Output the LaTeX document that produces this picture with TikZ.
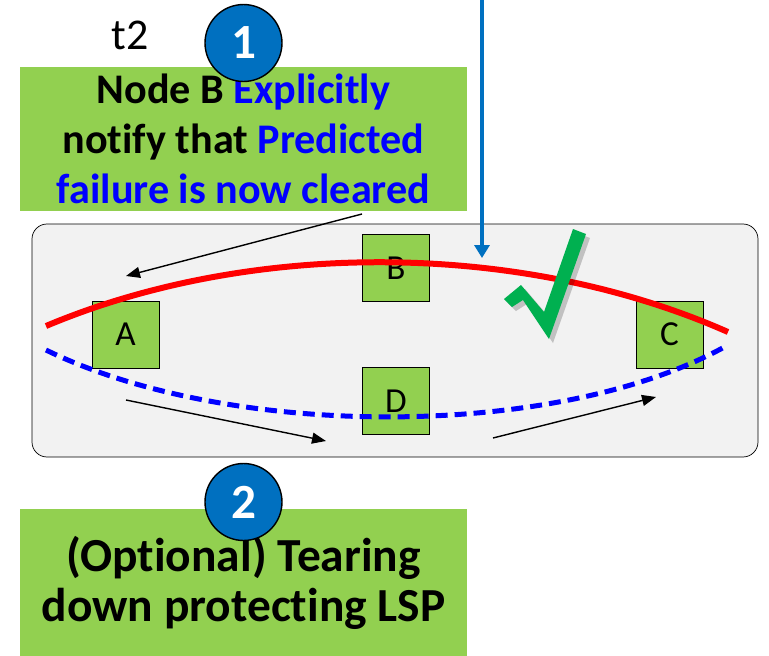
\documentclass[tikz,border=0pt]{standalone}
\usepackage{fontspec}
\setmainfont[RawFeature={-liga;-clig;-calt;-dlig}]{Carlito}
\usetikzlibrary{arrows.meta,positioning}

\definecolor{boxgreen}{HTML}{92D050}
\definecolor{numblue}{HTML}{0070C0}
\definecolor{txtblue}{HTML}{0000FF}
\definecolor{checkgreen}{HTML}{00B050}
\definecolor{areagray}{HTML}{F2F2F2}

\tikzset{
  router/.style={draw=black,fill=boxgreen,minimum width=1.34cm,minimum height=1.34cm,inner sep=0pt,font=\fontsize{20}{24}\selectfont},
  notebox/.style={fill=boxgreen,minimum width=8.94cm,inner sep=0pt,align=center,font=\fontsize{24}{28.5}\selectfont\bfseries},
  stepnum/.style={circle,draw=black,thick,fill=numblue,text=white,minimum size=1.54cm,inner sep=0pt,font=\fontsize{28}{32}\selectfont\bfseries},
  flow/.style={line width=0.8pt,-{Triangle[length=0.28cm,width=0.22cm]}}
}

\begin{document}
\begin{tikzpicture}[x=0.02cm,y=-0.02cm]
    \useasboundingbox (0,0) rectangle (769,656);

    % network area
    \draw[fill=areagray,rounded corners=0.3cm] (32,224) rectangle (758,457);

    % routers
    \node[router] (A) at (125.5,334.5) {A};
    \node[router] (B) at (396,268) {B};
    \node[router] (C) at (669.5,334.5) {C};
    \node[router] (D) at (396,401) {D};

    % working path (red) and protecting path (blue, dashed)
    \draw[red,line width=0.12cm] (46,326) .. controls (250,240) and (520,240) .. (728,332);
    \draw[txtblue,line width=0.1cm,dash pattern=on 0.24cm off 0.14cm]
        (46,350) .. controls (230,440) and (560,440) .. (728,345);

    % check mark with its shadow
    \fill[black,opacity=0.2,shift={(4,4)}] (504,299) -- (521,285) -- (544,312) -- (573,229)
        -- (586,234) -- (549,339) -- (523,300) -- (512,307) -- cycle;
    \fill[checkgreen] (504,299) -- (521,285) -- (544,312) -- (573,229)
        -- (586,234) -- (549,339) -- (523,300) -- (512,307) -- cycle;

    % notification flow
    \coordinate (fromB) at (362,214);
    \coordinate (toA) at (126,276);
    \draw[flow] (fromB) -- (toA);

    \coordinate (fromA) at (126,400);
    \coordinate (toD) at (326,441);
    \draw[flow] (fromA) -- (toD);

    \coordinate (fromD) at (493,438);
    \coordinate (toC) at (656,397);
    \draw[flow] (fromD) -- (toC);

    % pointer from above onto the path
    \coordinate (ptop) at (482,0);
    \coordinate (phit) at (482,258);
    \draw[numblue,line width=0.075cm,-{Triangle[length=0.26cm,width=0.3cm]}] (ptop) -- (phit);

    % time label
    \node[font=\fontsize{25}{30}\selectfont] (t2) at (130,35) {t2};

    % step 1
    \node[notebox,minimum height=2.88cm] (note1) at (243.5,139)
        {Node B \textcolor{txtblue}{Explicitly}\\ notify that \textcolor{txtblue}{Predicted}\\ \textcolor{txtblue}{failure is now cleared}};
    \node[stepnum] (s1) at (243.5,43) {1};

    % step 2
    \node[notebox,minimum height=2.94cm,font=\fontsize{27}{28.5}\selectfont\bfseries] (note2) at (243.5,582.5)
        {(Optional) Tearing\\ down protecting LSP};
    \node[stepnum] (s2) at (243.5,502) {2};
\end{tikzpicture}
\end{document}
